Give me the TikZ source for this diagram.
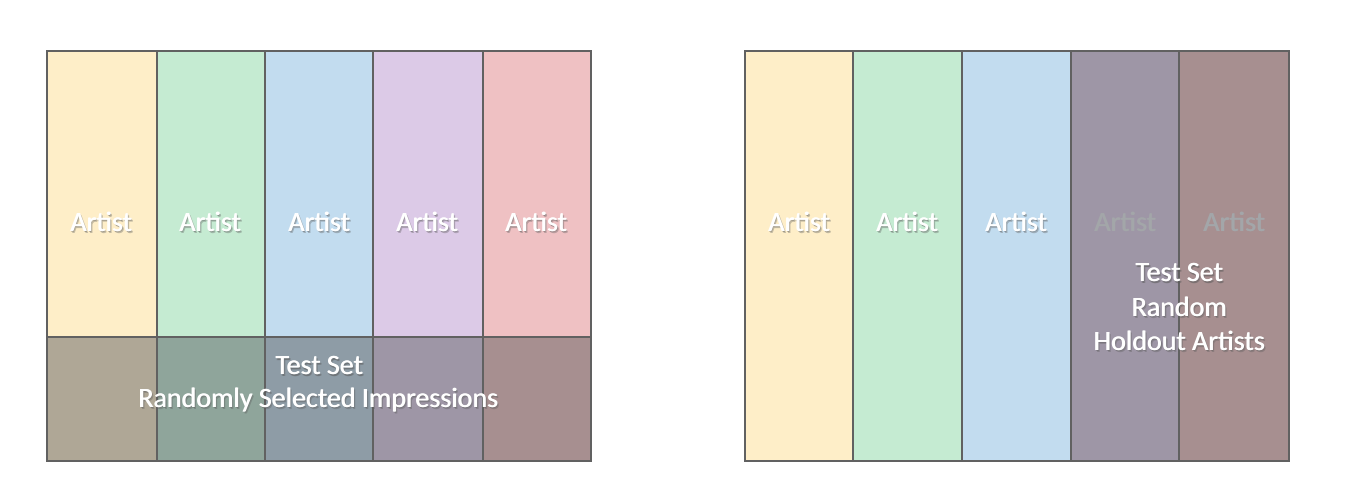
\documentclass[tikz,border=0pt]{standalone}
\usepackage{fontspec}
\setmainfont{Carlito}
\usetikzlibrary{calc}
\definecolor{cyel}{HTML}{FEEEC8}
\definecolor{cgrn}{HTML}{C5EBD2}
\definecolor{cblu}{HTML}{C2DCEF}
\definecolor{cpur}{HTML}{DCCAE7}
\definecolor{cpnk}{HTML}{EFC1C3}
\definecolor{dyel}{HTML}{AFA796}
\definecolor{dgrn}{HTML}{8FA59B}
\definecolor{dblu}{HTML}{8E9CA6}
\definecolor{dpur}{HTML}{9E96A6}
\definecolor{dpnk}{HTML}{A78F90}
\definecolor{edge}{HTML}{616161}
\definecolor{dimtxt}{HTML}{A3A6A9}
\definecolor{shd}{HTML}{5A5A5A}
\tikzset{
  cell/.style={draw=edge, line width=1.5pt},
  lbl/.style={text=white, font=\fontsize{21}{27}\selectfont, inner sep=0pt, align=center},
  shadowlbl/.style={text=shd, opacity=0.35, font=\fontsize{21}{27}\selectfont, inner sep=0pt, align=center},
  dimlbl/.style={text=dimtxt, font=\fontsize{21}{27}\selectfont, inner sep=0pt, align=center}
}
\newcommand{\stxt}[3]{%
  \node[shadowlbl] at ($(#1)+(2,2)$) {#3};
  \node[shadowlbl] at ($(#1)+(1,1.2)$) {#3};
  \node[lbl] at ($(#1)+(0.7,0)$) {#3};
  \node[lbl] (#2) at (#1) {#3};}
\begin{document}
\begin{tikzpicture}[x=0.75pt,y=-0.75pt]
\useasboundingbox (0,0) rectangle (1354,500);
% left panel
\fill[cyel] (47,51) rectangle (157,337);
\fill[cgrn] (157,51) rectangle (265,337);
\fill[cblu] (265,51) rectangle (373,337);
\fill[cpur] (373,51) rectangle (483,337);
\fill[cpnk] (483,51) rectangle (591,337);
\fill[dyel] (47,337) rectangle (157,461);
\fill[dgrn] (157,337) rectangle (265,461);
\fill[dblu] (265,337) rectangle (373,461);
\fill[dpur] (373,337) rectangle (483,461);
\fill[dpnk] (483,337) rectangle (591,461);
\foreach \x in {157,265,373,483} \draw[cell] (\x,51) -- (\x,461);
\draw[cell] (47,337) -- (591,337);
\draw[cell] (47,51) rectangle (591,461);
\stxt{101,222}{la1}{Artist}
\stxt{210,222}{la2}{Artist}
\stxt{319,222}{la3}{Artist}
\stxt{427,222}{la4}{Artist}
\stxt{536,222}{la5}{Artist}
\stxt{319,366}{lt1}{Test Set}
\stxt{318,400}{lt2}{Randomly Selected Impressions}
% right panel
\fill[cyel] (745,51) rectangle (853,461);
\fill[cgrn] (853,51) rectangle (962,461);
\fill[cblu] (962,51) rectangle (1071,461);
\fill[dpur] (1071,51) rectangle (1179,461);
\fill[dpnk] (1179,51) rectangle (1289,461);
\foreach \x in {853,962,1071,1179} \draw[cell] (\x,51) -- (\x,461);
\draw[cell] (745,51) rectangle (1289,461);
\stxt{799,222}{ra1}{Artist}
\stxt{907,222}{ra2}{Artist}
\stxt{1016,222}{ra3}{Artist}
\node[dimlbl] at (1125.7,222) {Artist};
\node[dimlbl] (ra4) at (1125,222) {Artist};
\node[dimlbl] at (1234.7,222) {Artist};
\node[dimlbl] (ra5) at (1234,222) {Artist};
\stxt{1179,273}{rt1}{Test Set}
\stxt{1179,307}{rt2}{Random}
\stxt{1179,341}{rt3}{Holdout Artists}
\end{tikzpicture}
\end{document}
